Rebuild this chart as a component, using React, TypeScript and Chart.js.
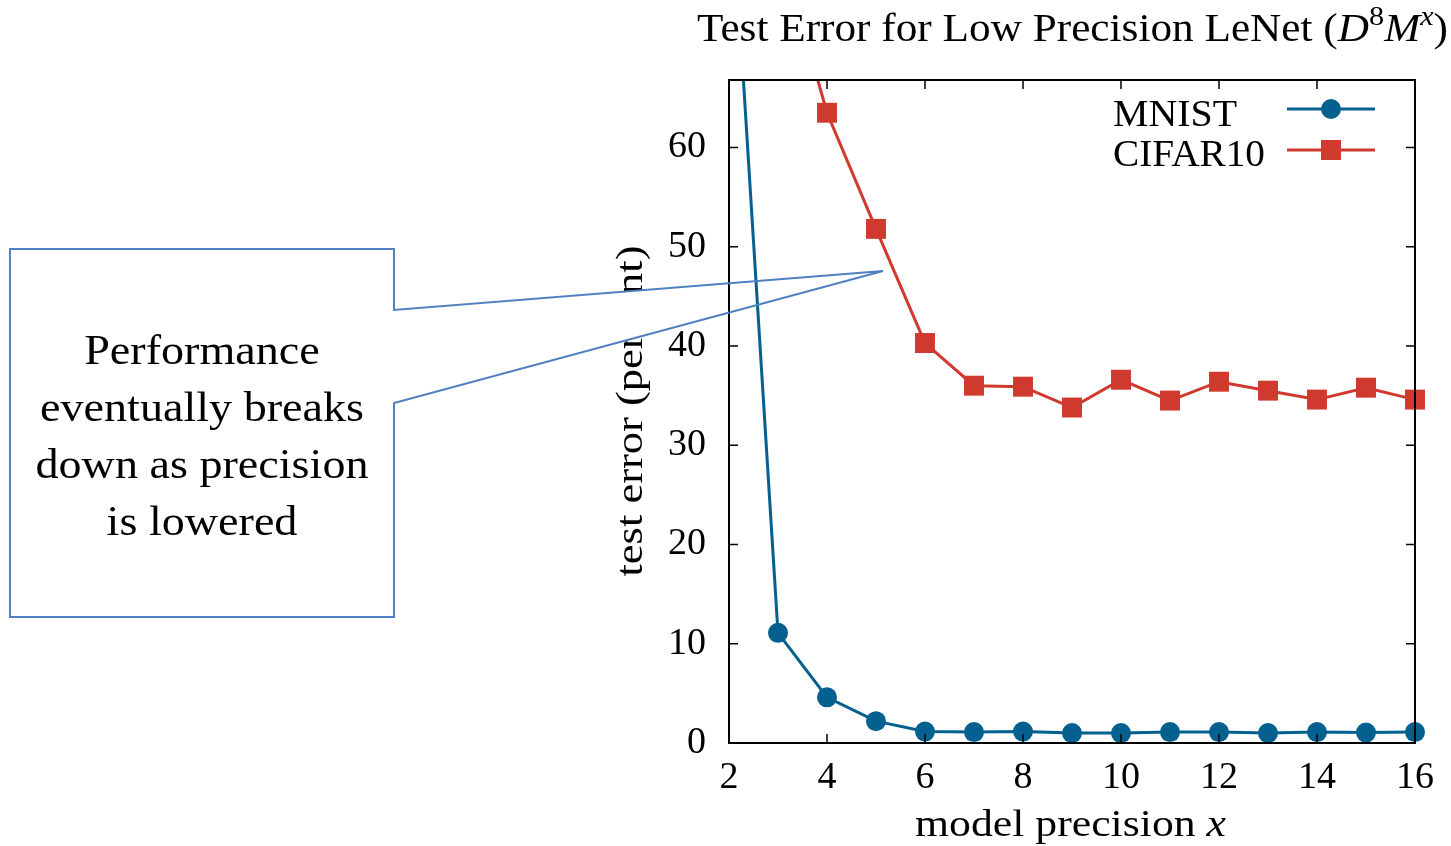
import React, { useEffect, useRef } from "react";
import { Chart, registerables } from "chart.js";

Chart.register(...registerables);

const precision = [2, 3, 4, 5, 6, 7, 8, 9, 10, 11, 12, 13, 14, 15, 16];
const mnist = [90, 11.1, 4.6, 2.2, 1.15, 1.1, 1.15, 1.0, 1.0, 1.1, 1.1, 1.0, 1.1, 1.05, 1.1];
const cifar10 = [null, 81, 63.5, 51.8, 40.3, 36.0, 35.9, 33.8, 36.6, 34.5, 36.4, 35.5, 34.6, 35.8, 34.6];
const seriesNames = ["MNIST", "CIFAR10"];
const seriesColors = ["#03608f", "#d0392e"];
const calloutLines = ["Performance", "eventually breaks", "down as precision", "is lowered"];
const titleText = "Test Error for Low Precision LeNet (";
const xTitle = "model precision ";
const yTitle = "test error (percent)";

const SERIF = "Liberation Serif";

type Seg = { t: string; it?: boolean; sup?: boolean };

function segFont(size: number, s: Seg) {
  const sz = s.sup ? size * 0.7 : size;
  return `${s.it ? "italic " : ""}${sz}px ${SERIF}`;
}

function measureSegs(ctx: CanvasRenderingContext2D, segs: Seg[], size: number) {
  let w = 0;
  for (const s of segs) {
    ctx.font = segFont(size, s);
    w += ctx.measureText(s.t).width;
  }
  return w;
}

function drawSegsFit(ctx: CanvasRenderingContext2D, segs: Seg[], size: number, left: number, right: number, baseline: number) {
  const w = measureSegs(ctx, segs, size);
  const sx = (right - left) / w;
  ctx.save();
  ctx.translate(left, baseline);
  ctx.scale(sx, 1);
  ctx.textAlign = "left";
  ctx.textBaseline = "alphabetic";
  ctx.fillStyle = "#000";
  let x = 0;
  for (const s of segs) {
    ctx.font = segFont(size, s);
    ctx.fillText(s.t, x, s.sup ? -size * 0.4 : 0);
    x += ctx.measureText(s.t).width;
  }
  ctx.restore();
}

function drawTextCentered(ctx: CanvasRenderingContext2D, text: string, size: number, cx: number, baseline: number, sx: number) {
  ctx.save();
  ctx.translate(cx, baseline);
  ctx.scale(sx, 1);
  ctx.font = `${size}px ${SERIF}`;
  ctx.textAlign = "center";
  ctx.textBaseline = "alphabetic";
  ctx.fillStyle = "#000";
  ctx.fillText(text, 0, 0);
  ctx.restore();
}

function calloutPath(ctx: CanvasRenderingContext2D) {
  ctx.beginPath();
  ctx.moveTo(394, 310);
  ctx.lineTo(394, 249);
  ctx.lineTo(10, 249);
  ctx.lineTo(10, 617);
  ctx.lineTo(394, 617);
  ctx.lineTo(394, 403);
  ctx.lineTo(883, 271);
  ctx.closePath();
}

const decor = {
  id: "decor",
  beforeDraw(chart: any) {
    const ctx: CanvasRenderingContext2D = chart.ctx;
    const ca = chart.chartArea;
    ctx.save();
    ctx.fillStyle = "#fff";
    ctx.fillRect(0, 0, chart.width, chart.height);
    ctx.translate(642, (ca.top + ca.bottom) / 2);
    ctx.rotate(-Math.PI / 2);
    drawSegsFit(ctx, [{ t: yTitle }], 38, -165, 166, 0);
    ctx.restore();
    ctx.save();
    calloutPath(ctx);
    ctx.fillStyle = "#fff";
    ctx.fill();
    ctx.restore();
  },
  afterDatasetsDraw(chart: any) {
    const ctx: CanvasRenderingContext2D = chart.ctx;
    const ca = chart.chartArea;
    const xs = chart.scales.x;
    const ys = chart.scales.y;
    ctx.save();
    ctx.strokeStyle = "#000";
    ctx.lineWidth = 2;
    ctx.strokeRect(ca.left, ca.top, ca.right - ca.left, ca.bottom - ca.top);
    ctx.lineWidth = 1.5;
    const tl = 9;
    ctx.beginPath();
    for (const t of xs.ticks) {
      const px = xs.getPixelForValue(t.value);
      ctx.moveTo(px, ca.bottom);
      ctx.lineTo(px, ca.bottom - tl);
      ctx.moveTo(px, ca.top);
      ctx.lineTo(px, ca.top + tl);
    }
    for (const t of ys.ticks) {
      const py = ys.getPixelForValue(t.value);
      ctx.moveTo(ca.left, py);
      ctx.lineTo(ca.left + tl, py);
      ctx.moveTo(ca.right, py);
      ctx.lineTo(ca.right - tl, py);
    }
    ctx.stroke();
    ctx.restore();
  },
  afterDraw(chart: any) {
    const ctx: CanvasRenderingContext2D = chart.ctx;
    ctx.save();
    calloutPath(ctx);
    ctx.strokeStyle = "#5080c2";
    ctx.lineWidth = 2;
    ctx.lineJoin = "miter";
    ctx.stroke();
    ctx.restore();
    ctx.save();
    ctx.font = `42px ${SERIF}`;
    const ref = ctx.measureText(calloutLines[2]).width;
    const sx = 333 / ref;
    ctx.restore();
    const baselines = [364, 421, 478, 535];
    calloutLines.forEach((l, i) => drawTextCentered(ctx, l, 42, 202, baselines[i], sx));
    drawSegsFit(
      ctx,
      [{ t: titleText }, { t: "D", it: true }, { t: "8", sup: true }, { t: "M", it: true }, { t: "x", it: true, sup: true }, { t: ")" }],
      40,
      697,
      1448,
      41
    );
    drawSegsFit(ctx, [{ t: xTitle }, { t: "x", it: true }], 38, 915, 1226, 836);
    const rows = [109, 150];
    const textBase = [126, 166];
    const rights = [1237, 1265];
    chart.data.datasets.forEach((ds: any, i: number) => {
      drawSegsFit(ctx, [{ t: ds.label }], 38, 1113, rights[i], textBase[i]);
      ctx.save();
      ctx.strokeStyle = ds.borderColor;
      ctx.lineWidth = 3;
      ctx.beginPath();
      ctx.moveTo(1287, rows[i]);
      ctx.lineTo(1375, rows[i]);
      ctx.stroke();
      ctx.fillStyle = ds.backgroundColor;
      ctx.beginPath();
      if (ds.pointStyle === "circle") {
        ctx.arc(1331, rows[i], 10, 0, Math.PI * 2);
      } else {
        ctx.rect(1331 - 10, rows[i] - 10, 20, 20);
      }
      ctx.fill();
      ctx.restore();
    });
  },
};

export default function App() {
  const ref = useRef<HTMLCanvasElement>(null);
  useEffect(() => {
    document.body.style.margin = "0";
    const canvas = ref.current!;
    let chart: Chart | null = null;
    let cancelled = false;
    const make = () => {
      if (cancelled) return;
      chart = new Chart(canvas, {
        type: "line",
        data: {
          datasets: [
            {
              label: seriesNames[0],
              data: precision.map((x, i) => ({ x, y: mnist[i] })),
              borderColor: seriesColors[0],
              backgroundColor: seriesColors[0],
              borderWidth: 3,
              pointStyle: "circle",
              pointRadius: 10,
              pointBorderWidth: 0,
              pointHoverRadius: 10,
              clip: { left: 5, top: 0, right: 15, bottom: 15 } as any,
            },
            {
              label: seriesNames[1],
              data: precision.map((x, i) => ({ x, y: cifar10[i] })),
              borderColor: seriesColors[1],
              backgroundColor: seriesColors[1],
              borderWidth: 3,
              pointStyle: "rect",
              pointRadius: 14.1,
              pointBorderWidth: 0,
              pointHoverRadius: 14.1,
              clip: { left: 5, top: 0, right: 15, bottom: 15 } as any,
            },
          ],
        },
        options: {
          responsive: false,
          animation: false,
          devicePixelRatio: 1,
          events: [],
          layout: { padding: { left: 0, top: 80, right: 36, bottom: 0 } },
          plugins: { legend: { display: false }, title: { display: false }, tooltip: { enabled: false } },
          scales: {
            x: {
              type: "linear",
              min: 2,
              max: 16,
              grid: { display: false, drawTicks: false },
              border: { display: false },
              ticks: { stepSize: 2, padding: 12, color: "#000", font: { family: SERIF, size: 38 }, maxRotation: 0, includeBounds: false },
              afterFit: (s: any) => { s.height = 103; },
            },
            y: {
              type: "linear",
              min: 0,
              max: 66.8,
              grid: { display: false, drawTicks: false },
              border: { display: false },
              ticks: { stepSize: 10, padding: 23, color: "#000", font: { family: SERIF, size: 38 }, includeBounds: false },
              afterFit: (s: any) => { s.width = 729; },
            },
          },
        },
        plugins: [decor],
      });
    };
    const fs: any = (document as any).fonts;
    if (fs && fs.load) {
      Promise.all([fs.load(`38px ${SERIF}`), fs.load(`italic 38px ${SERIF}`)]).then(make, make);
    } else {
      make();
    }
    return () => {
      cancelled = true;
      if (chart) chart.destroy();
    };
  }, []);
  return (
    <div style={{ position: "absolute", left: 0, top: 0, width: 1451, height: 846 }}>
      <canvas ref={ref} width={1451} height={846} style={{ width: 1451, height: 846, display: "block" }} />
    </div>
  );
}
